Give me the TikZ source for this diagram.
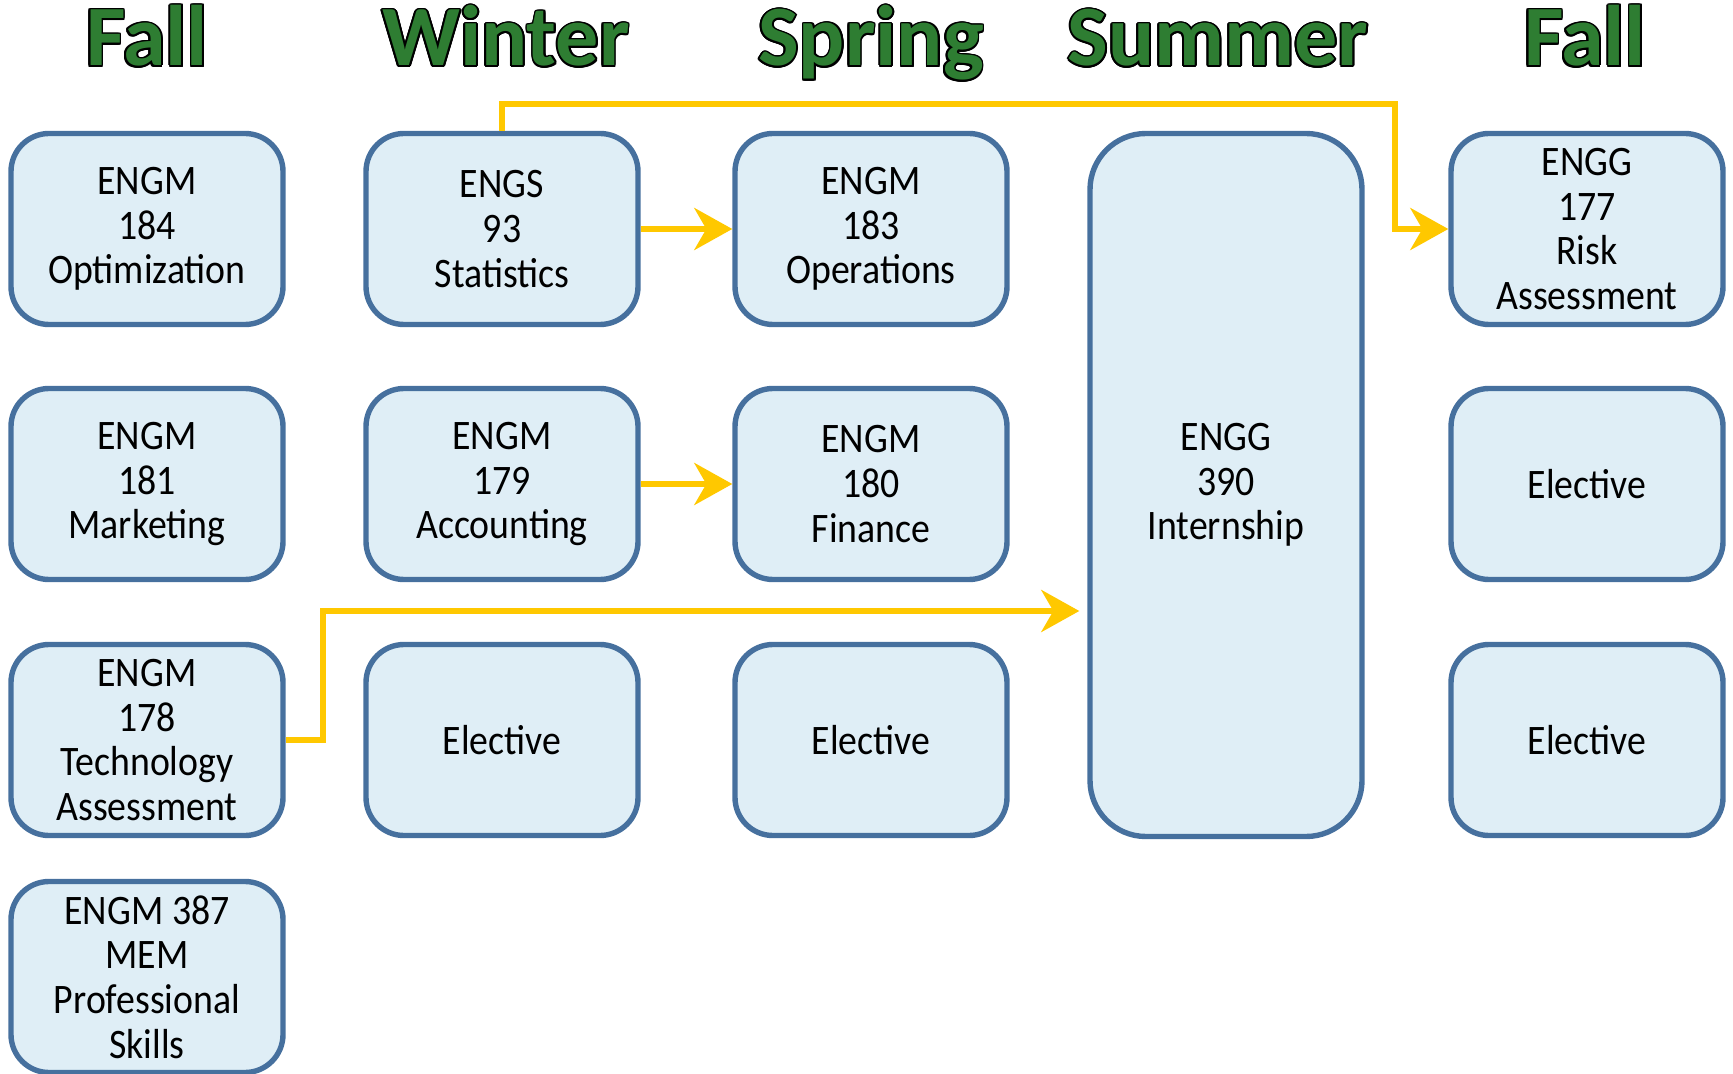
\documentclass[tikz,border=0pt]{standalone}
\usepackage{fontspec}
\setmainfont{Carlito}[FakeStretch=0.9]
\newfontfamily\termfont{Carlito}
\usepackage{contour}
\contourlength{0.9pt}
\usetikzlibrary{arrows.meta}
\definecolor{boxfill}{RGB}{223,238,246}
\definecolor{boxline}{RGB}{70,112,158}
\definecolor{arrowgold}{RGB}{255,200,0}
\definecolor{termgreen}{RGB}{46,125,50}
\begin{document}
\begin{tikzpicture}[x=1pt,y=1pt,
    course/.style={draw=boxline, fill=boxfill, line width=2.7pt, rounded corners=19pt,
      minimum width=136pt, minimum height=95.5pt, align=center,
      font=\fontsize{21}{22.3}\selectfont},
    term/.style={anchor=base, font=\termfont\fontsize{43}{43}\selectfont\bfseries},
    flow/.style={draw=arrowgold, line width=3pt, -{Stealth[length=19pt,width=21pt,inset=6pt]}}]

    % Fix the page size
    \useasboundingbox (0,0) rectangle (866.5,-537);

    % Term headings
    \node[term] (fall) at (73.5,-33) {\contour{black}{\color{termgreen}Fall}};
    \node[term] (winter) at (253,-33) {\contour{black}{\color{termgreen}Winter}};
    \node[term] (spring) at (435.5,-33) {\contour{black}{\color{termgreen}Spring}};
    \node[term] (summer) at (609,-33) {\contour{black}{\color{termgreen}Summer}};
    \node[term] (fallnext) at (792.5,-33) {\contour{black}{\color{termgreen}Fall}};

    % Fall courses
    \node[course] (optim) at (73.5,-114.5) {ENGM\\184\\Optimization};
    \node[course] (market) at (73.5,-242) {ENGM\\181\\Marketing};
    \node[course] (tech) at (73.5,-370) {ENGM\\178\\Technology\\Assessment};
    \node[course] (skills) at (73.5,-488.5) {ENGM 387\\MEM\\Professional\\Skills};

    % Winter courses
    \node[course] (stat) at (251,-114.5) {ENGS\\93\\Statistics};
    \node[course] (account) at (251,-242) {ENGM\\179\\Accounting};
    \node[course] (electw) at (251,-370) {Elective};

    % Spring courses
    \node[course] (oper) at (435.5,-114.5) {ENGM\\183\\Operations};
    \node[course] (finance) at (435.5,-242) {ENGM\\180\\Finance};
    \node[course] (elects) at (435.5,-370) {Elective};

    % Summer internship
    \node[course, minimum height=351.5pt, rounded corners=28pt] (intern) at (613,-242.5) {ENGG\\390\\Internship};

    % Second fall courses
    \node[course] (risk) at (793.5,-114.5) {ENGG\\177\\Risk\\Assessment};
    \node[course] (electa) at (793.5,-242) {Elective};
    \node[course] (electb) at (793.5,-370) {Elective};

    % Turning points of the long arrows
    \coordinate (topturn) at (697.5,-52);
    \coordinate (lowturn) at (161.5,-305.5);

    % Prerequisite arrows
    \draw[flow] (stat.east) -- (oper.west);
    \draw[flow] (account.east) -- (finance.west);
    \draw[flow] (stat.north) |- (topturn) |- (risk.west);
    \draw[flow] (tech.east) -| (lowturn) -- ([xshift=-4pt]intern.west |- lowturn);

\end{tikzpicture}
\end{document}
